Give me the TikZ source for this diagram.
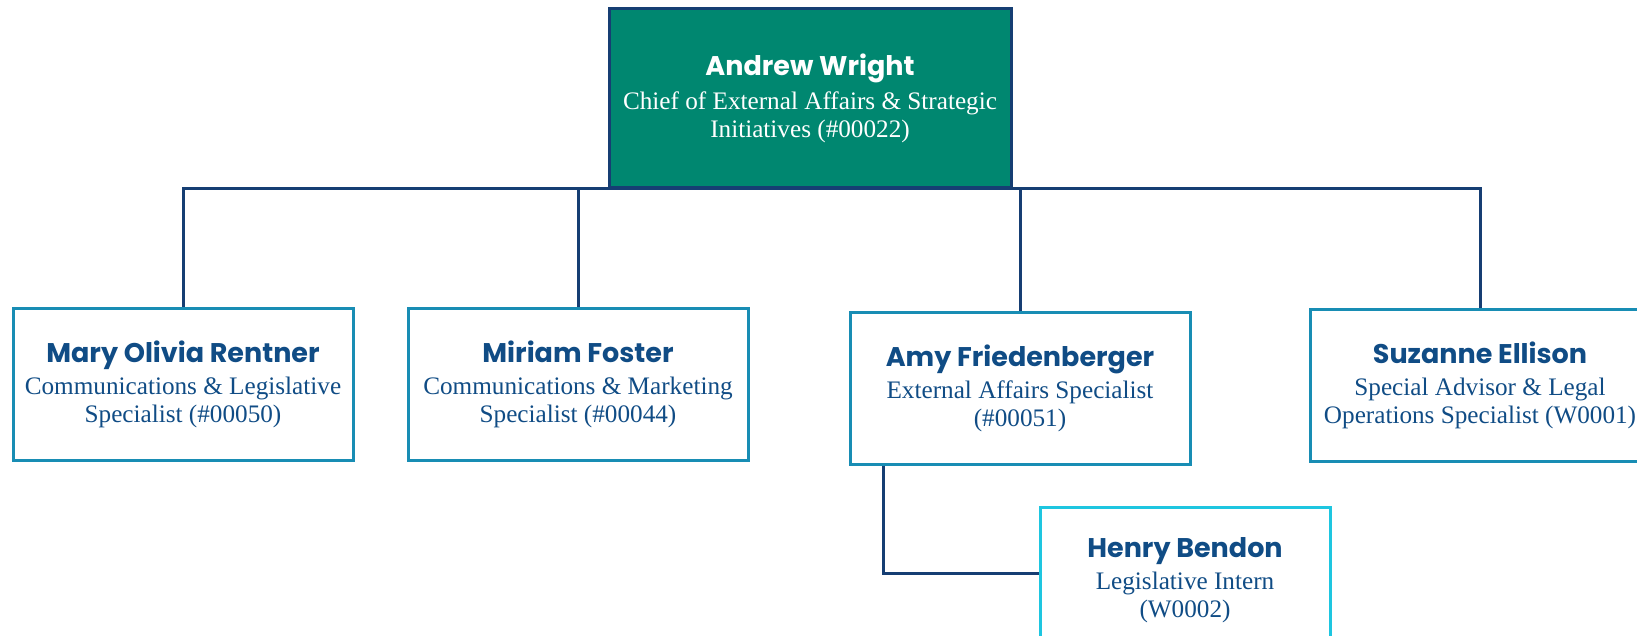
\documentclass[tikz,border=0pt]{standalone}
\usepackage{fontspec}
\setmainfont{Liberation Serif}
\newfontfamily\namefont{Poppins}
\usetikzlibrary{positioning}
\definecolor{ewteal}{RGB}{0,135,112}
\definecolor{ewnavy}{RGB}{22,62,115}
\definecolor{ewtext}{RGB}{16,76,133}
\definecolor{ewblue}{RGB}{24,141,180}
\definecolor{ewcyan}{RGB}{30,198,224}
\newcommand{\pname}[1]{{\namefont\bfseries\fontsize{13.5}{14}\selectfont #1}}

\begin{document}
\begin{tikzpicture}[x=0.5pt, y=-0.5pt, font=\fontsize{12.6}{14}\selectfont,
	block/.style={rectangle, draw=ewblue, line width=1.5pt, minimum width=170pt, minimum height=76pt,
	              align=center, text=ewtext, inner sep=2pt},
	head/.style={block, draw=ewnavy, fill=ewteal, text=white, minimum width=201pt, minimum height=89.5pt},
	intern/.style={block, draw=ewcyan, minimum width=145pt, minimum height=73pt},
	link/.style={draw=ewnavy, line width=1.5pt},]
	 \useasboundingbox (0,0) rectangle (1637,636);

	 \node[head] (wright) at (810,98) {\pname{Andrew Wright}\\[3pt]Chief of External Affairs \& Strategic\\Initiatives (\#00022)};
	 \node[block] (rentner) at (183,384) {\pname{Mary Olivia Rentner}\\[2pt]Communications \& Legislative\\Specialist (\#00050)};
	 \node[block, right=26pt of rentner] (foster) {\pname{Miriam Foster}\\[2pt]Communications \& Marketing\\Specialist (\#00044)};
	 \node[block] (friedenberger) at (1020,388) {\pname{Amy Friedenberger}\\[2pt]External Affairs Specialist\\(\#00051)};
	 \node[block] (ellison) at (1480,385) {\pname{Suzanne Ellison}\\[2pt]Special Advisor \& Legal\\Operations Specialist (W0001)};
	 \node[intern] (bendon) at (1185,580) {\pname{Henry Bendon}\\[2pt]Legislative Intern\\(W0002)};

	 \draw[link] (wright.south) -| (rentner.north);
	 \draw[link] (wright.south) -| (foster.north);
	 \draw[link] (wright.south) -| (friedenberger.north);
	 \draw[link] (wright.south) -| (ellison.north);

	 % intern
	 \draw[link] ([xshift=17.5pt]friedenberger.south west) |- ([yshift=3.5pt]bendon.west);
\end{tikzpicture}
\end{document}
